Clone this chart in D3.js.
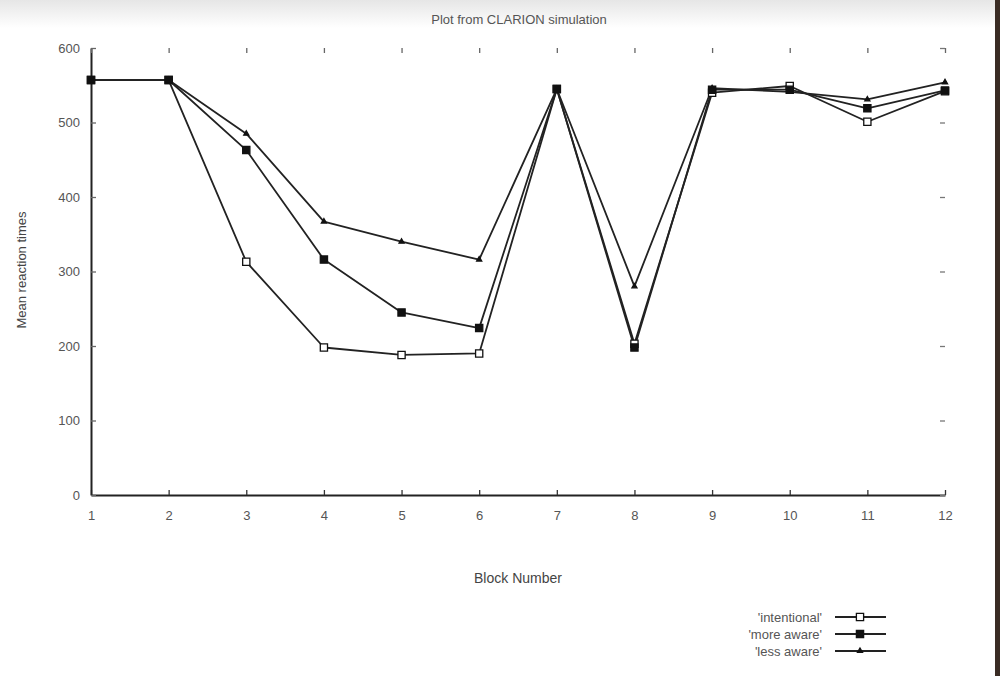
<!DOCTYPE html>
<html>
<head>
<meta charset="utf-8">
<script src="https://cdn.jsdelivr.net/npm/d3@7"></script>
<style>
  html, body { margin: 0; padding: 0; background: #fff; }
  svg { display: block; font-family: "Liberation Sans", Arial, Helvetica, sans-serif; }
</style>
</head>
<body>
<svg id="chart" width="1000" height="676"></svg>
<script>
// Mean reaction time per block for three simulated groups
const blocks = [1, 2, 3, 4, 5, 6, 7, 8, 9, 10, 11, 12];
const intentional = [557, 557, 313, 198, 188, 190, 545, 203, 540, 549, 501, 542];
const moreAware   = [557, 557, 463, 316, 245, 224, 545, 198, 544, 544, 519, 543];
const lessAware   = [557, 557, 485, 367, 340, 316, 545, 280, 546, 541, 531, 554];
const seriesNames = ["'intentional'", "'more aware'", "'less aware'"];
const yTicks = [0, 100, 200, 300, 400, 500, 600];

const titleText = "Plot from CLARION simulation";
const xLabel = "Block Number";
const yLabel = "Mean reaction times";

const series = [
  { name: seriesNames[0], values: intentional, symbol: d3.symbolSquare, size: 52, fill: "#fff" },
  { name: seriesNames[1], values: moreAware,   symbol: d3.symbolSquare, size: 52, fill: "#111" },
  { name: seriesNames[2], values: lessAware,   symbol: d3.symbolTriangle, size: 11, fill: "#111" }
];

const svg = d3.select("#chart");
const W = 1000, H = 676;

// faint grey band along the top and dark strip at the right edge
const defs = svg.append("defs");
const grad = defs.append("linearGradient").attr("id", "topShade")
  .attr("x1", 0).attr("y1", 0).attr("x2", 0).attr("y2", 1);
grad.append("stop").attr("offset", "0%").attr("stop-color", "#e6e6e6");
grad.append("stop").attr("offset", "100%").attr("stop-color", "#ffffff");
svg.append("rect").attr("x", 0).attr("y", 0).attr("width", W).attr("height", 28)
  .attr("fill", "url(#topShade)");
svg.append("rect").attr("x", 995).attr("y", 0).attr("width", 5).attr("height", H)
  .attr("fill", "#3a2c24");

const x = d3.scaleLinear().domain([1, 12]).range([91, 945]);
const y = d3.scaleLinear().domain([0, 600]).range([495, 48]);

const labelColor = "#555";

function styleAxis(g, showDomain, tickColor) {
  g.selectAll(".tick line").attr("stroke", tickColor).attr("stroke-width", 1.3);
  g.selectAll(".tick text").attr("fill", labelColor).attr("font-size", 13)
    .attr("font-family", "\"Liberation Sans\", Arial, sans-serif");
  if (showDomain) g.select(".domain").attr("stroke", "#222").attr("stroke-width", 2);
  else g.select(".domain").remove();
}

// bottom axis with inward ticks
svg.append("g").attr("transform", `translate(0,${y(0)})`)
  .call(d3.axisBottom(x).tickValues(blocks).tickFormat(d3.format("d"))
    .tickSizeInner(-5).tickSizeOuter(0).tickPadding(16))
  .call(g => styleAxis(g, true, "#333"));

// left axis with inward ticks
svg.append("g").attr("transform", `translate(${x(1)},0)`)
  .call(d3.axisLeft(y).tickValues(yTicks).tickFormat(d3.format("d"))
    .tickSizeInner(-5).tickSizeOuter(0).tickPadding(11))
  .call(g => styleAxis(g, true, "#666"));

// mirrored tick marks along top and right
svg.append("g").attr("transform", `translate(0,${y(600)})`)
  .call(d3.axisTop(x).tickValues(blocks).tickFormat("").tickSizeInner(-5).tickSizeOuter(0))
  .call(g => styleAxis(g, false, "#666"));
svg.append("g").attr("transform", `translate(${x(12)},0)`)
  .call(d3.axisRight(y).tickValues(yTicks).tickFormat("").tickSizeInner(-5).tickSizeOuter(0))
  .call(g => styleAxis(g, false, "#777"));

// series lines and markers
const line = d3.line().x((d, i) => x(blocks[i])).y(d => y(d));
const plot = svg.append("g");
series.forEach(s => {
  plot.append("path").datum(s.values).attr("d", line)
    .attr("fill", "none").attr("stroke", "#222").attr("stroke-width", 1.8)
    .attr("stroke-linejoin", "round");
});
series.forEach(s => {
  plot.selectAll(null).data(s.values).enter().append("path")
    .attr("transform", (d, i) => `translate(${x(blocks[i])},${y(d)})`)
    .attr("d", d3.symbol().type(s.symbol).size(s.size))
    .attr("fill", s.fill).attr("stroke", "#111").attr("stroke-width", 1.3);
});

// title and axis labels
svg.append("text").attr("x", 519).attr("y", 24).attr("text-anchor", "middle")
  .attr("font-size", 13).attr("fill", labelColor).text(titleText);
svg.append("text").attr("x", 518).attr("y", 583).attr("text-anchor", "middle")
  .attr("font-size", 14).attr("fill", "#444").text(xLabel);
svg.append("text").attr("transform", "translate(26,270) rotate(-90)")
  .attr("text-anchor", "middle").attr("font-size", 13).attr("fill", "#444").text(yLabel);

// legend
const legend = svg.append("g");
series.forEach((s, i) => {
  const ly = 617 + i * 17;
  legend.append("text").attr("x", 822).attr("y", ly + 4.5).attr("text-anchor", "end")
    .attr("font-size", 13).attr("fill", labelColor).text(s.name);
  legend.append("line").attr("x1", 835).attr("x2", 886).attr("y1", ly).attr("y2", ly)
    .attr("stroke", "#222").attr("stroke-width", 1.8);
  legend.append("path").attr("transform", `translate(860,${ly})`)
    .attr("d", d3.symbol().type(s.symbol).size(s.size))
    .attr("fill", s.fill).attr("stroke", "#111").attr("stroke-width", 1.3);
});
</script>
</body>
</html>
